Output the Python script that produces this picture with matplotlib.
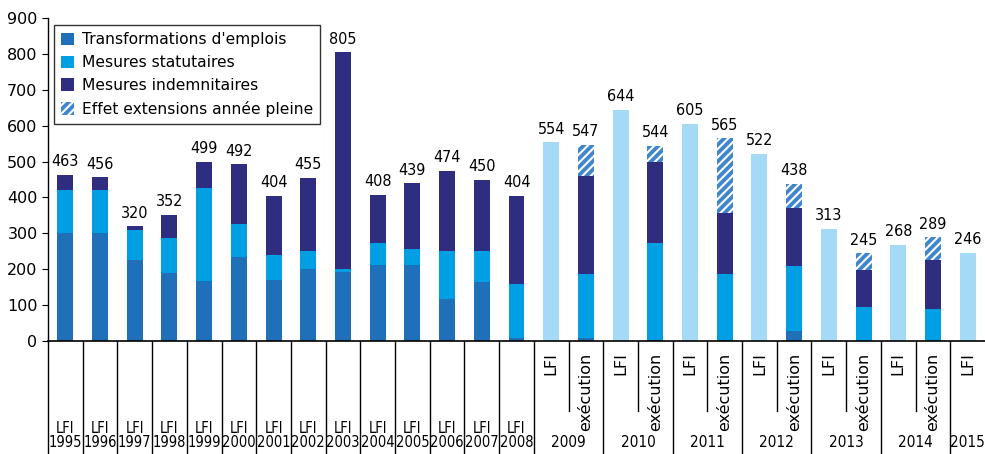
import matplotlib
matplotlib.use('Agg')
import matplotlib.pyplot as plt
from matplotlib import font_manager
import numpy as np

# Données (M€)
bottom_labels = ['LFI\n1995', 'LFI\n1996', 'LFI\n1997', 'LFI\n1998', 'LFI\n1999', 'LFI\n2000',
                 'LFI\n2001', 'LFI\n2002', 'LFI\n2003', 'LFI\n2004', 'LFI\n2005', 'LFI\n2006',
                 'LFI\n2007', 'LFI\n2008']
group_years = ['2009', '2010', '2011', '2012', '2013', '2014']
last_year = '2015'
sub_labels = ['LFI', 'exécution']

transformations = [300, 300, 227, 189, 168, 235, 170, 202, 193, 212, 212, 118, 165, 7,
                   0, 7, 0, 4, 0, 4, 0, 29, 0, 0, 0, 0, 0]
statutaires = [122, 120, 81, 99, 259, 92, 70, 49, 9, 61, 43, 133, 86, 152,
               0, 179, 0, 270, 0, 182, 0, 179, 0, 94, 0, 90, 0]
indemnitaires = [41, 36, 12, 64, 72, 165, 164, 204, 603, 135, 184, 223, 199, 245,
                 0, 275, 0, 224, 0, 170, 0, 162, 0, 105, 0, 137, 0]
extensions = [0] * 14 + [0, 86, 0, 46, 0, 209, 0, 68, 0, 46, 0, 62, 0]
lfi_budget = [0] * 14 + [554, 0, 644, 0, 605, 0, 522, 0, 313, 0, 268, 0, 246]
totals = [463, 456, 320, 352, 499, 492, 404, 455, 805, 408, 439, 474, 450, 404,
          554, 547, 644, 544, 605, 565, 522, 438, 313, 245, 268, 289, 246]

c_transf = '#1f70b8'
c_stat = '#009fe3'
c_indem = '#2e2d80'
c_lfi = '#a5daf6'
c_ext = '#3f86cc'


def find_narrow():
    # police étroite si dispo (Liberation Sans Narrow / DejaVu Sans Condensed)
    files = [f.fname for f in font_manager.fontManager.ttflist]
    for key in ['LiberationSansNarrow-Regular', 'DejaVuSansCondensed.ttf',
                'RobotoCondensed-Regular', 'OpenSans_Condensed-Regular']:
        for fn in files:
            if key in fn:
                return fn
    for fn in files:
        low = fn.lower()
        if ('condensed' in low or 'narrow' in low) and not any(
                b in low for b in ['bold', 'italic', 'oblique', 'light', 'medium', 'semi', 'black', 'thin']):
            return fn
    return None


narrow_file = find_narrow()


def nfont(size):
    if narrow_file:
        return font_manager.FontProperties(fname=narrow_file, size=size)
    return font_manager.FontProperties(family='DejaVu Sans', size=size * 0.8)


n = len(totals)
x = np.arange(n)
w = 0.46

fig = plt.figure(figsize=(9.85, 4.54), dpi=100)
ax = fig.add_axes([48 / 985, 113 / 454, 937 / 985, 323 / 454])

t = np.array(transformations)
s = np.array(statutaires)
i = np.array(indemnitaires)
e = np.array(extensions)

ax.bar(x, t, w, color=c_transf, label="Transformations d'emplois")
ax.bar(x, s, w, bottom=t, color=c_stat, label='Mesures statutaires')
ax.bar(x, i, w, bottom=t + s, color=c_indem, label='Mesures indemnitaires')
plt.rcParams['hatch.linewidth'] = 1.5
ax.bar(x, e, w, bottom=t + s + i, color=c_ext, edgecolor='white', linewidth=0,
       hatch='////', label='Effet extensions année pleine')
ax.bar(x, lfi_budget, w, color=c_lfi)

tops = t + s + i + e + np.array(lfi_budget)
for xi, top, lab in zip(x, tops, totals):
    ax.annotate(str(lab), (xi, top), xytext=(0, 4), textcoords='offset points',
                ha='center', va='bottom', fontproperties=nfont(11.5))

ax.set_xlim(-0.5, n - 0.5)
ax.set_ylim(0, 900)
ax.set_yticks(range(0, 901, 100))
ax.tick_params(axis='y', labelsize=11.5, length=4, direction='out')
ax.set_xticks([])
for sp in ['top', 'right']:
    ax.spines[sp].set_visible(False)
ax.spines['bottom'].set_linewidth(1.2)
ax.spines['left'].set_linewidth(1.0)

# axe des catégories sous le graphique
trans = ax.get_xaxis_transform()
y_bot = -0.35
y_short = -0.217
ax.plot([-0.5, -0.5], [0, y_bot], transform=trans, color='black', lw=1, clip_on=False)
for k in range(14):
    ax.plot([k + 0.5, k + 0.5], [0, y_bot], transform=trans, color='black', lw=1, clip_on=False)
    ax.text(k, -0.338, bottom_labels[k], transform=trans, ha='center', va='bottom',
            fontproperties=nfont(10.5), linespacing=0.9)
for g, yr in enumerate(group_years):
    a = 14 + 2 * g
    ax.plot([a + 0.5, a + 0.5], [0, y_short], transform=trans, color='black', lw=1, clip_on=False)
    ax.plot([a + 1.5, a + 1.5], [0, y_bot], transform=trans, color='black', lw=1, clip_on=False)
    for j, lab in enumerate(sub_labels):
        ax.text(a + j, -0.035, lab, transform=trans, ha='center', va='top', rotation=90,
                fontsize=11.5)
    ax.text(a + 0.5, -0.338, yr, transform=trans, ha='center', va='bottom',
            fontproperties=nfont(11))
ax.text(n - 1, -0.035, 'LFI', transform=trans, ha='center', va='top', rotation=90, fontsize=11.5)
ax.text(n - 1, -0.338, last_year, transform=trans, ha='center', va='bottom',
        fontproperties=nfont(11))

leg = ax.legend(loc='upper left', bbox_to_anchor=(0.006, 0.977), borderaxespad=0,
                fontsize=11.2, frameon=True, fancybox=False, edgecolor='black',
                handlelength=0.85, handleheight=0.85, handletextpad=0.5,
                labelspacing=0.5, borderpad=0.45)
leg.get_frame().set_linewidth(1.0)

fig.savefig('out.png', dpi=100)
plt.close(fig)
